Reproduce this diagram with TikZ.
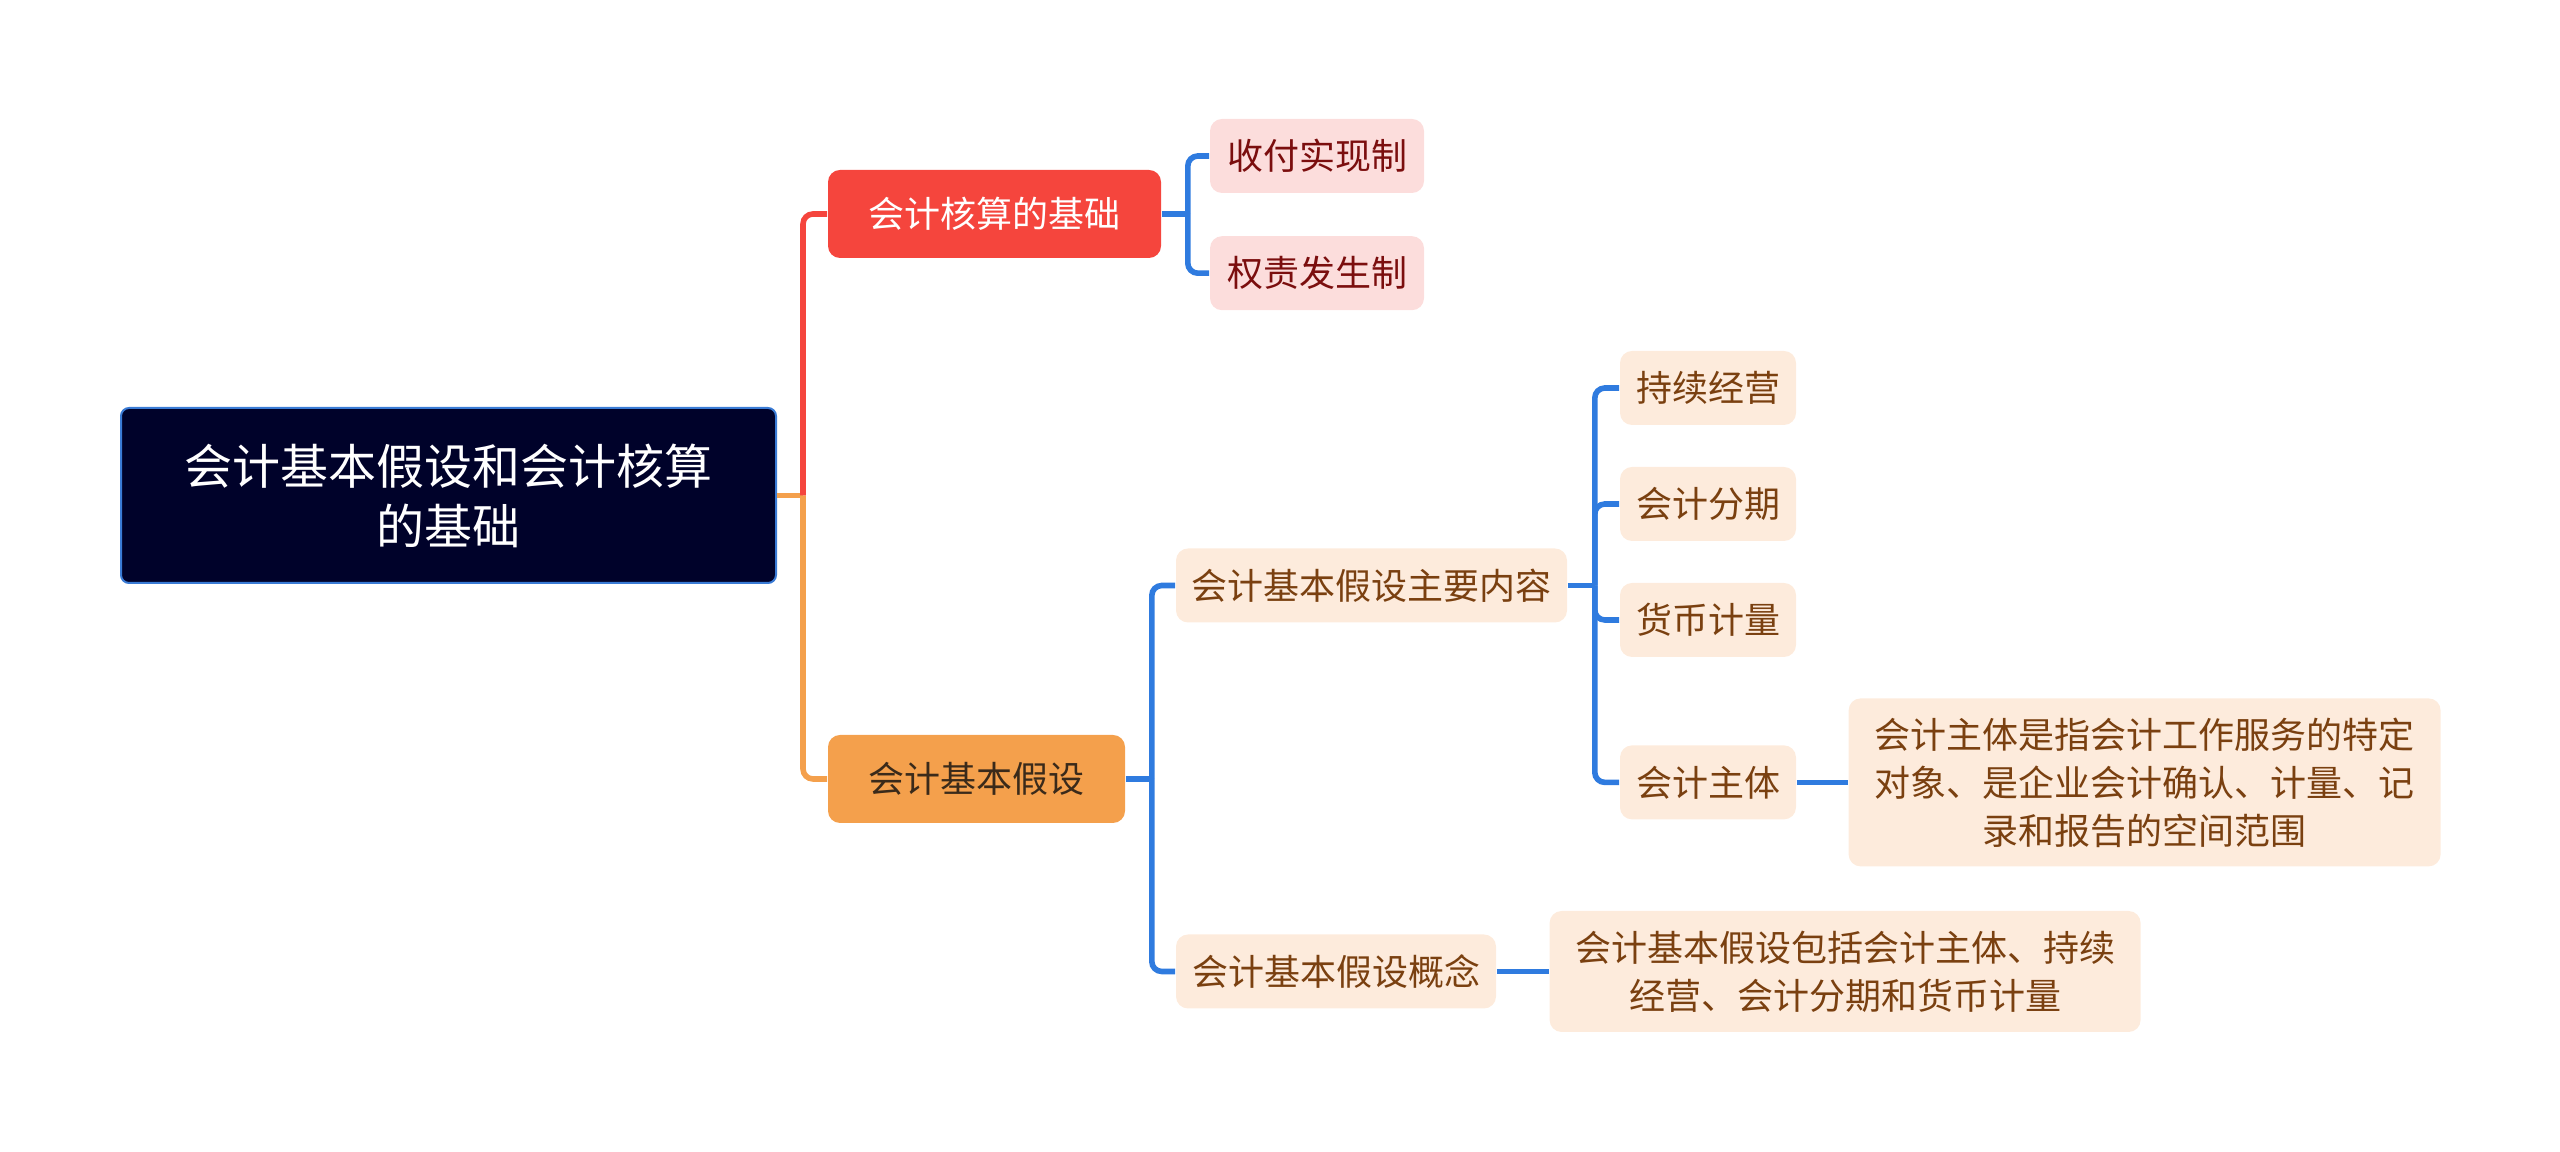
\documentclass[tikz,border=0pt]{standalone}
\usepackage{fontspec}
\newfontfamily\cjk{Noto Sans CJK SC}
\usetikzlibrary{positioning,calc}
\definecolor{rootnavy}{HTML}{00022A}
\definecolor{rootedge}{HTML}{3A7BD5}
\definecolor{basered}{HTML}{F5453D}
\definecolor{baseorange}{HTML}{F4A04C}
\definecolor{basetext}{HTML}{3A2A1A}
\definecolor{leafpink}{HTML}{FCDDDC}
\definecolor{leafred}{HTML}{7B0E0E}
\definecolor{leafpeach}{HTML}{FDEBDC}
\definecolor{leafbrown}{HTML}{7A4010}
\definecolor{linkblue}{HTML}{2F7BDF}
\tikzset{
  box/.style={rounded corners=3pt, align=center, inner sep=0pt, font=\cjk\fontsize{9pt}{12pt}\selectfont},
  rootbox/.style={box, rounded corners=2pt, fill=rootnavy, draw=rootedge, line width=0.5pt, text=white, font=\cjk\fontsize{12pt}{15pt}\selectfont},
  topic/.style={box, minimum height=22pt},
  pinkleaf/.style={box, fill=leafpink, text=leafred, minimum height=18.5pt},
  peachleaf/.style={box, fill=leafpeach, text=leafbrown, minimum height=18.5pt},
  link/.style={line width=1.4pt, rounded corners=2.5pt, draw=linkblue},
}

\begin{document}
\begin{tikzpicture}[x=0.25pt, y=-0.25pt]
  \useasboundingbox (0,0) rectangle (2560,1152);
  % central topic and the two main branches
  \node[rootbox, minimum width=163.75pt, minimum height=43.75pt] (root) at (448.5,495.5) {会计基本假设和会计核算\\的基础};
  \node[topic, fill=basered, text=white, minimum width=83.25pt] (acct) at (994.5,214) {会计核算的基础};
  \node[topic, fill=baseorange, text=basetext, minimum width=74.25pt] (assume) at (976.5,779) {会计基本假设};
  % basis of accounting
  \node[pinkleaf, minimum width=53.5pt] (cash) at (1317,156) {收付实现制};
  \node[pinkleaf, minimum width=53.5pt, below=10.4pt of cash] (accrual) {权责发生制};
  % basic assumptions
  \node[peachleaf, minimum width=97.75pt] (content) at (1371.5,585.5) {会计基本假设主要内容};
  \node[peachleaf, minimum width=80pt] (concept) at (1336,971.5) {会计基本假设概念};
  \node[peachleaf, minimum width=44pt] (going) at (1708,388) {持续经营};
  \node[peachleaf, minimum width=44pt, below=10.1pt of going] (period) {会计分期};
  \node[peachleaf, minimum width=44pt, below=10.1pt of period] (money) {货币计量};
  \node[peachleaf, minimum width=44pt, below=21.7pt of money] (entity) {会计主体};
  \node[peachleaf, minimum width=148pt, minimum height=42pt, right=12.75pt of entity] (entitynote)
    {会计主体是指会计工作服务的特定\\对象、是企业会计确认、计量、记\\录和报告的空间范围};
  \node[peachleaf, minimum width=147.75pt, minimum height=30.25pt, right=13pt of concept] (conceptnote)
    {会计基本假设包括会计主体、持续\\经营、会计分期和货币计量};

  % connectors
  \coordinate (hub) at ($(root.east)+(26,0)$);
  \draw[line width=1.4pt, draw=baseorange] (root.east) -- (hub);
  \draw[line width=1.4pt, draw=baseorange, rounded corners=2.5pt] (hub) |- (assume.west);
  \draw[line width=1.4pt, draw=basered, rounded corners=2.5pt] (hub) |- (acct.west);
  \draw[link] (acct.east) -- ++(26,0) coordinate (accthub);
  \foreach \n in {cash,accrual}
    \draw[link] (accthub) |- (\n.west);
  \draw[link] (assume.east) -- ++(26,0) coordinate (assumehub);
  \foreach \n in {content,concept}
    \draw[link] (assumehub) |- (\n.west);
  \draw[link] (content.east) -- ++(27,0) coordinate (contenthub);
  \foreach \n in {going,period,money,entity}
    \draw[link] (contenthub) |- (\n.west);
  \draw[link] (entity.east) -- (entitynote.west);
  \draw[link] (concept.east) -- (conceptnote.west);
\end{tikzpicture}
\end{document}
